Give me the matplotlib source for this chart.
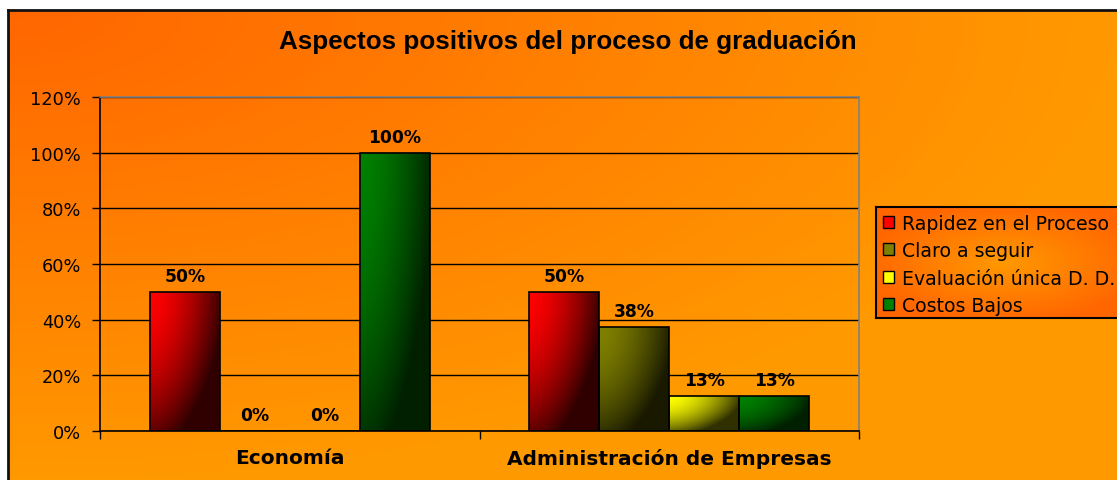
import matplotlib
matplotlib.use("Agg")
import matplotlib.pyplot as plt
import numpy as np
from matplotlib.patches import Patch
from matplotlib.ticker import FuncFormatter, FixedLocator
import math

plt.rcParams['font.family'] = ['DejaVu Sans']

categories = ['Economía', 'Administración de Empresas']
series = ['Rapidez en el Proceso', 'Claro a seguir', 'Evaluación única D. D.', 'Costos Bajos']
values = {
    'Rapidez en el Proceso': [0.50, 0.50],
    'Claro a seguir': [0.0, 0.375],
    'Evaluación única D. D.': [0.0, 0.125],
    'Costos Bajos': [1.00, 0.125],
}
# bright / dark colour of each series gradient
bright = ['#ff0000', '#808000', '#ffff00', '#008000']
dark = ['#300000', '#1a1a00', '#303000', '#002000']

W, H = 1117, 481
fig = plt.figure(figsize=(W / 100, H / 100), dpi=100)
fig.patch.set_facecolor('white')


def hex2rgb(h):
    return np.array(matplotlib.colors.to_rgb(h))


# chart background (gradient from the top-left corner)
bg = fig.add_axes([8 / W, 0, 1 - 8 / W, (H - 11) / H])
xx, yy = np.meshgrid(np.linspace(0, 1, 300), np.linspace(0, 1, 150))
t = np.clip(np.sqrt(xx ** 2 + yy ** 2), 0, 1)[..., None]
c0, c1 = hex2rgb('#ff6600'), hex2rgb('#ff9900')
bg.imshow(c0 + (c1 - c0) * t, extent=(0, 1, 1, 0), aspect='auto')
bg.set_xlim(0, 1)
bg.set_ylim(1, 0)
bg.set_xticks([])
bg.set_yticks([])
for s in ['bottom', 'right']:
    bg.spines[s].set_visible(False)
for s in ['left', 'top']:
    bg.spines[s].set_linewidth(2)
    bg.spines[s].set_color('#111111')
bg.set_zorder(0)

ax = fig.add_axes([100 / W, (H - 432) / H, (859 - 100) / W, (432 - 98) / H])
ax.set_zorder(2)
ax.patch.set_alpha(0)

x = np.arange(len(categories))
width = 70 / 379.5
handles = []
for i, name in enumerate(series):
    vals = values[name]
    pos = x + (i - 1.5) * width
    bars = ax.bar(pos, vals, width, facecolor='none', edgecolor='black', linewidth=1.2, zorder=3)
    cb, cd = hex2rgb(bright[i]), hex2rgb(dark[i])
    for b, v in zip(bars, vals):
        if v > 0:
            gx, gy = np.meshgrid(np.linspace(0, 1, 60), np.linspace(0, 1, 120))
            tt = np.clip(0.9 * gx ** 1.6 + 0.75 * gy ** 1.8, 0, 1)[..., None]
            img = cb + (cd - cb) * tt
            im = ax.imshow(img, extent=(b.get_x(), b.get_x() + b.get_width(), 0, b.get_height()),
                           aspect='auto', zorder=2.5, interpolation='bilinear')
            im.set_clip_path(b)
        ax.annotate('%d%%' % int(math.floor(v * 100 + 0.5)), (b.get_x() + b.get_width() / 2, v),
                    xytext=(0, 7), textcoords='offset pixels', ha='center', va='bottom',
                    fontsize=12.3, fontweight='bold', zorder=4)
    handles.append(Patch(facecolor=bright[i], edgecolor='black'))

ax.set_xlim(-0.5, 1.5)
ax.set_ylim(0, 1.2)
ax.set_yticks(np.arange(0, 1.21, 0.2))
ax.yaxis.set_major_formatter(FuncFormatter(lambda v, p: '%d%%' % round(v * 100)))
ax.set_xticks(x)
ax.set_xticklabels(categories, fontsize=14.5, fontweight='bold')
ax.xaxis.set_minor_locator(FixedLocator([-0.5, 0.5, 1.5]))
ax.tick_params(axis='x', which='major', length=0, pad=12)
ax.tick_params(axis='x', which='minor', length=6, width=1, direction='out')
ax.tick_params(axis='y', length=6, width=1, direction='out', labelsize=12.8, pad=7.5)
ax.grid(axis='y', color='black', linewidth=1, zorder=1)
ax.set_axisbelow(True)
for s in ['top', 'right']:
    ax.spines[s].set_color('#808080')
    ax.spines[s].set_linewidth(1.2)
for s in ['left', 'bottom']:
    ax.spines[s].set_color('black')
    ax.spines[s].set_linewidth(1.2)

fig.text(568 / W, 1 - 42 / H, 'Aspectos positivos del proceso de graduación',
         ha='center', va='center', fontsize=18.7, fontweight='bold',
         family=['Liberation Sans', 'DejaVu Sans'], zorder=5)

# legend with its own gradient box
lg = fig.add_axes([876 / W, (H - 319) / H, 0.3, (319 - 208) / H])
lx, ly = np.meshgrid(np.linspace(0, 1, 200), np.linspace(0, 1, 100))
r = np.clip(np.sqrt(((lx - 0.38) / 0.42) ** 2 + ((ly - 0.5) / 0.55) ** 2), 0, 1)[..., None]
lg.imshow(c1 + (c0 - c1) * r, extent=(0, 1, 1, 0), aspect='auto')
lg.set_xlim(0, 1)
lg.set_ylim(1, 0)
lg.set_xticks([])
lg.set_yticks([])
for s in lg.spines.values():
    s.set_linewidth(1.5)
    s.set_color('black')
lg.set_zorder(3)
lg.legend(handles, series, loc='upper left', bbox_to_anchor=(0, 1), frameon=False,
          fontsize=13.6, handlelength=0.6, handleheight=0.6, handletextpad=0.4,
          labelspacing=0.45, borderaxespad=0.0, borderpad=0.35)

fig.savefig('out.png', dpi=100)
